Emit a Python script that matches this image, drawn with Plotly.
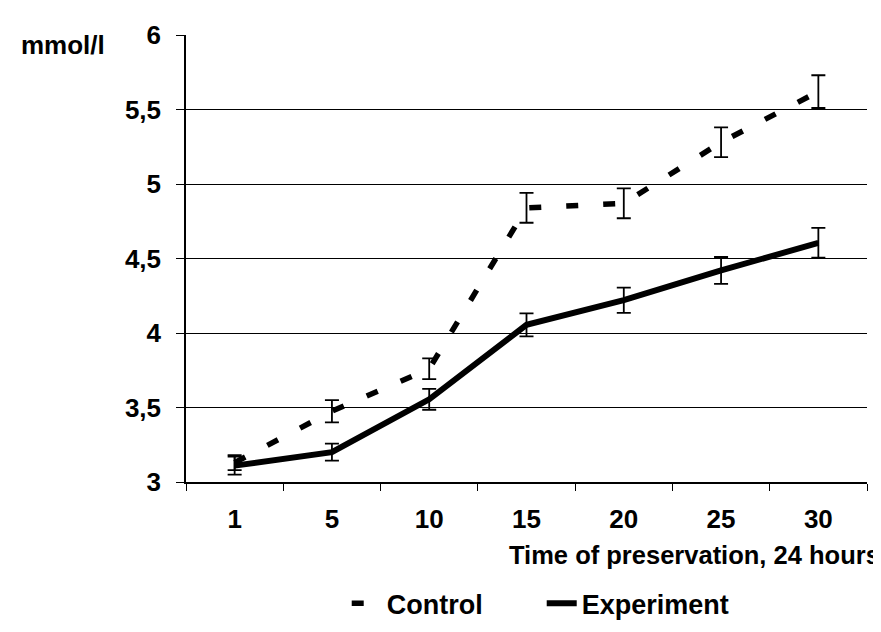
import plotly.graph_objects as go

categories = ["1", "5", "10", "15", "20", "25", "30"]
control = [3.13, 3.475, 3.76, 4.84, 4.87, 5.28, 5.62]
control_err = [0.05, 0.075, 0.07, 0.1, 0.1, 0.1, 0.11]
experiment = [3.11, 3.20, 3.555, 4.055, 4.22, 4.42, 4.605]
experiment_err = [0.06, 0.057, 0.07, 0.077, 0.085, 0.09, 0.1]
y_ticks = [3, 3.5, 4, 4.5, 5, 5.5, 6]
y_ticktext = ["3", "3,5", "4", "4,5", "5", "5,5", "6"]

FONT = "Liberation Sans, Arial, sans-serif"
FS = 26

fig = go.Figure()
fig.add_trace(go.Scatter(
    x=categories, y=control, name="<b>Control</b>", mode="lines",
    line=dict(color="black", width=5.5, dash="12px,25px"),
    error_y=dict(type="data", array=control_err, visible=True,
                 color="black", thickness=1.8, width=7),
))
fig.add_trace(go.Scatter(
    x=categories, y=experiment, name="<b>Experiment</b>", mode="lines",
    line=dict(color="black", width=6),
    error_y=dict(type="data", array=experiment_err, visible=True,
                 color="black", thickness=1.8, width=7),
))

fig.update_layout(
    width=881, height=632,
    margin=dict(l=178, r=22, t=24, b=148),
    paper_bgcolor="white", plot_bgcolor="white",
    font=dict(family=FONT, size=FS, color="black"),
    showlegend=True,
    legend=dict(orientation="h", x=0.236, xanchor="left", y=-0.272, yanchor="middle",
                font=dict(family=FONT, size=27, color="black"),
                entrywidth=150, entrywidthmode="pixels", tracegroupgap=0,
                bgcolor="rgba(0,0,0,0)"),
    xaxis=dict(
        type="category", showgrid=False, showline=True, linecolor="black", linewidth=1.5,
        ticks="outside", tickson="boundaries", ticklen=7, tickcolor="black", tickwidth=1,
        tickfont=dict(family=FONT, size=FS, color="black"),
        tickprefix="<b>", ticksuffix="</b>", ticklabelstandoff=13,
        range=[-0.5, 6.5], zeroline=False,
    ),
    yaxis=dict(
        range=[3, 6], tickvals=y_ticks, ticktext=["<b>" + t + "</b>" for t in y_ticktext],
        showgrid=True, gridcolor="black", gridwidth=1,
        showline=True, linecolor="black", linewidth=1.5,
        ticks="outside", ticklen=8, tickcolor="black", tickwidth=1,
        tickfont=dict(family=FONT, size=FS, color="black"), ticklabelstandoff=10,
        zeroline=False,
    ),
    annotations=[
        dict(text="<b>mmol/l</b>", xref="paper", yref="paper", x=(11 - 178) / 681, y=(484 - 34) / 460,
             xanchor="left", yanchor="middle", showarrow=False,
             font=dict(family=FONT, size=FS, color="black")),
        dict(text="<b>Time of preservation, 24 hours</b>", xref="paper", yref="paper",
             x=(874 - 178) / 681, y=(484 - 559) / 460, xanchor="right", yanchor="middle", showarrow=False,
             font=dict(family=FONT, size=25.5, color="black")),
    ],
)

fig.write_html("out.html")
